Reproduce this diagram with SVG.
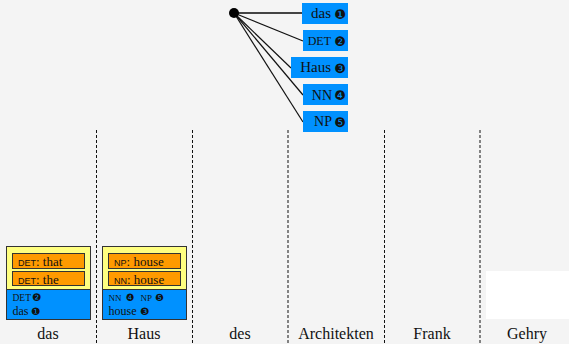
<svg xmlns="http://www.w3.org/2000/svg" width="569" height="344" viewBox="0 0 569 344">
<style>
.bg{fill:#f4f4f4}
.tb{fill:#0091ff}
.yl{fill:#ffff80;stroke:#333;stroke-width:1}
.bl{fill:#0091ff;stroke:#333;stroke-width:1}
.or{fill:#ff9a00;stroke:#333;stroke-width:1}
.sep{stroke:#111;stroke-width:1;stroke-dasharray:3,2}
.con{stroke:#111;stroke-width:1.2;fill:none}
text{fill:#111}
.w{font-size:16px;text-anchor:middle}
.n{font-family:"DejaVu Sans",sans-serif}
.s{font-family:"Liberation Sans",Arial,sans-serif}
</style>
<rect class="bg" x="0" y="0" width="569" height="344"/>
<g id="separators">
<line class="sep" x1="96.5" y1="130" x2="96.5" y2="344"/>
<line class="sep" x1="192.5" y1="130" x2="192.5" y2="344"/>
<line class="sep" x1="288" y1="130" x2="288" y2="344"/>
<line class="sep" x1="384.5" y1="130" x2="384.5" y2="344"/>
<line class="sep" x1="480" y1="130" x2="480" y2="344"/>
</g>
<g id="connectors">
<line x1="234" y1="13" x2="302" y2="13" style="stroke:#444;stroke-width:2"/>
<line class="con" x1="234" y1="13" x2="303" y2="41"/>
<line class="con" x1="234" y1="13" x2="291" y2="68"/>
<line class="con" x1="234" y1="13" x2="303" y2="95"/>
<line class="con" x1="234" y1="13" x2="303" y2="122"/>
</g>
<g id="root">
<circle cx="234" cy="13" r="5" fill="#000"/>
</g>
<g font-family="'Liberation Serif','DejaVu Serif',serif">
<g id="t1"><rect class="tb" x="302" y="3" width="46" height="21"/><text x="331" y="18" font-size="15" text-anchor="end">das</text><text class="n" x="346" y="18.5" font-size="13" text-anchor="end">❶</text></g>
<g id="t2"><rect class="tb" x="303" y="30" width="45" height="21"/><text x="331" y="45" font-size="12" text-anchor="end">DET</text><text class="n" x="346" y="45.5" font-size="13" text-anchor="end">❷</text></g>
<g id="t3"><rect class="tb" x="291" y="57" width="57" height="21"/><text x="331" y="72" font-size="15" text-anchor="end">Haus</text><text class="n" x="346" y="72.5" font-size="13" text-anchor="end">❸</text></g>
<g id="t4"><rect class="tb" x="303" y="84" width="45" height="21"/><text x="332" y="99.5" font-size="14" text-anchor="end">NN</text><text class="n" x="346" y="99.5" font-size="13" text-anchor="end">❹</text></g>
<g id="t5"><rect class="tb" x="303" y="111" width="45" height="21"/><text x="332" y="126" font-size="14" text-anchor="end">NP</text><text class="n" x="346" y="126.5" font-size="13" text-anchor="end">❺</text></g>
<g id="box-das">
<rect class="yl" x="6.5" y="246.5" width="84" height="43"/>
<rect class="bl" x="6.5" y="289.5" width="84" height="30"/>
<rect class="or" x="12.5" y="253.5" width="72" height="15"/>
<rect class="or" x="12.5" y="271.5" width="72" height="14"/>
<text x="18" y="266" font-size="13"><tspan class="s" font-size="9">DET</tspan>: that</text>
<text x="18" y="283.5" font-size="13"><tspan class="s" font-size="9">DET</tspan>: the</text>
<text x="12.5" y="301" font-size="9.5">DET</text><text class="n" x="32" y="301" font-size="10.5">❷</text>
<text x="12.5" y="314.5" font-size="12">das</text><text class="n" x="31" y="314.5" font-size="10.5">❶</text>
</g>
<g id="box-haus">
<rect class="yl" x="102.5" y="246.5" width="84" height="43"/>
<rect class="bl" x="102.5" y="289.5" width="84" height="30"/>
<rect class="or" x="108.5" y="253.5" width="72" height="15"/>
<rect class="or" x="108.5" y="271.5" width="72" height="14"/>
<text x="114" y="266" font-size="13"><tspan class="s" font-size="9">NP</tspan>: house</text>
<text x="114" y="283.5" font-size="13"><tspan class="s" font-size="9">NN</tspan>: house</text>
<text x="108.5" y="301" font-size="9">NN</text><text class="n" x="125.5" y="300.5" font-size="10">❹</text>
<text x="140.5" y="301" font-size="9">NP</text><text class="n" x="155" y="300.5" font-size="10">❺</text>
<text x="108.5" y="314.5" font-size="12">house</text><text class="n" x="140" y="314.5" font-size="10.5">❸</text>
</g>
<g id="box-gehry">
<rect x="486" y="271" width="83" height="48" fill="#fff"/>
</g>
<g id="words">
<text class="w" x="48" y="339">das</text>
<text class="w" x="144" y="339">Haus</text>
<text class="w" x="240" y="339">des</text>
<text class="w" x="336" y="339">Architekten</text>
<text class="w" x="432" y="339">Frank</text>
<text class="w" x="527" y="339">Gehry</text>
</g>
</g>
</svg>
